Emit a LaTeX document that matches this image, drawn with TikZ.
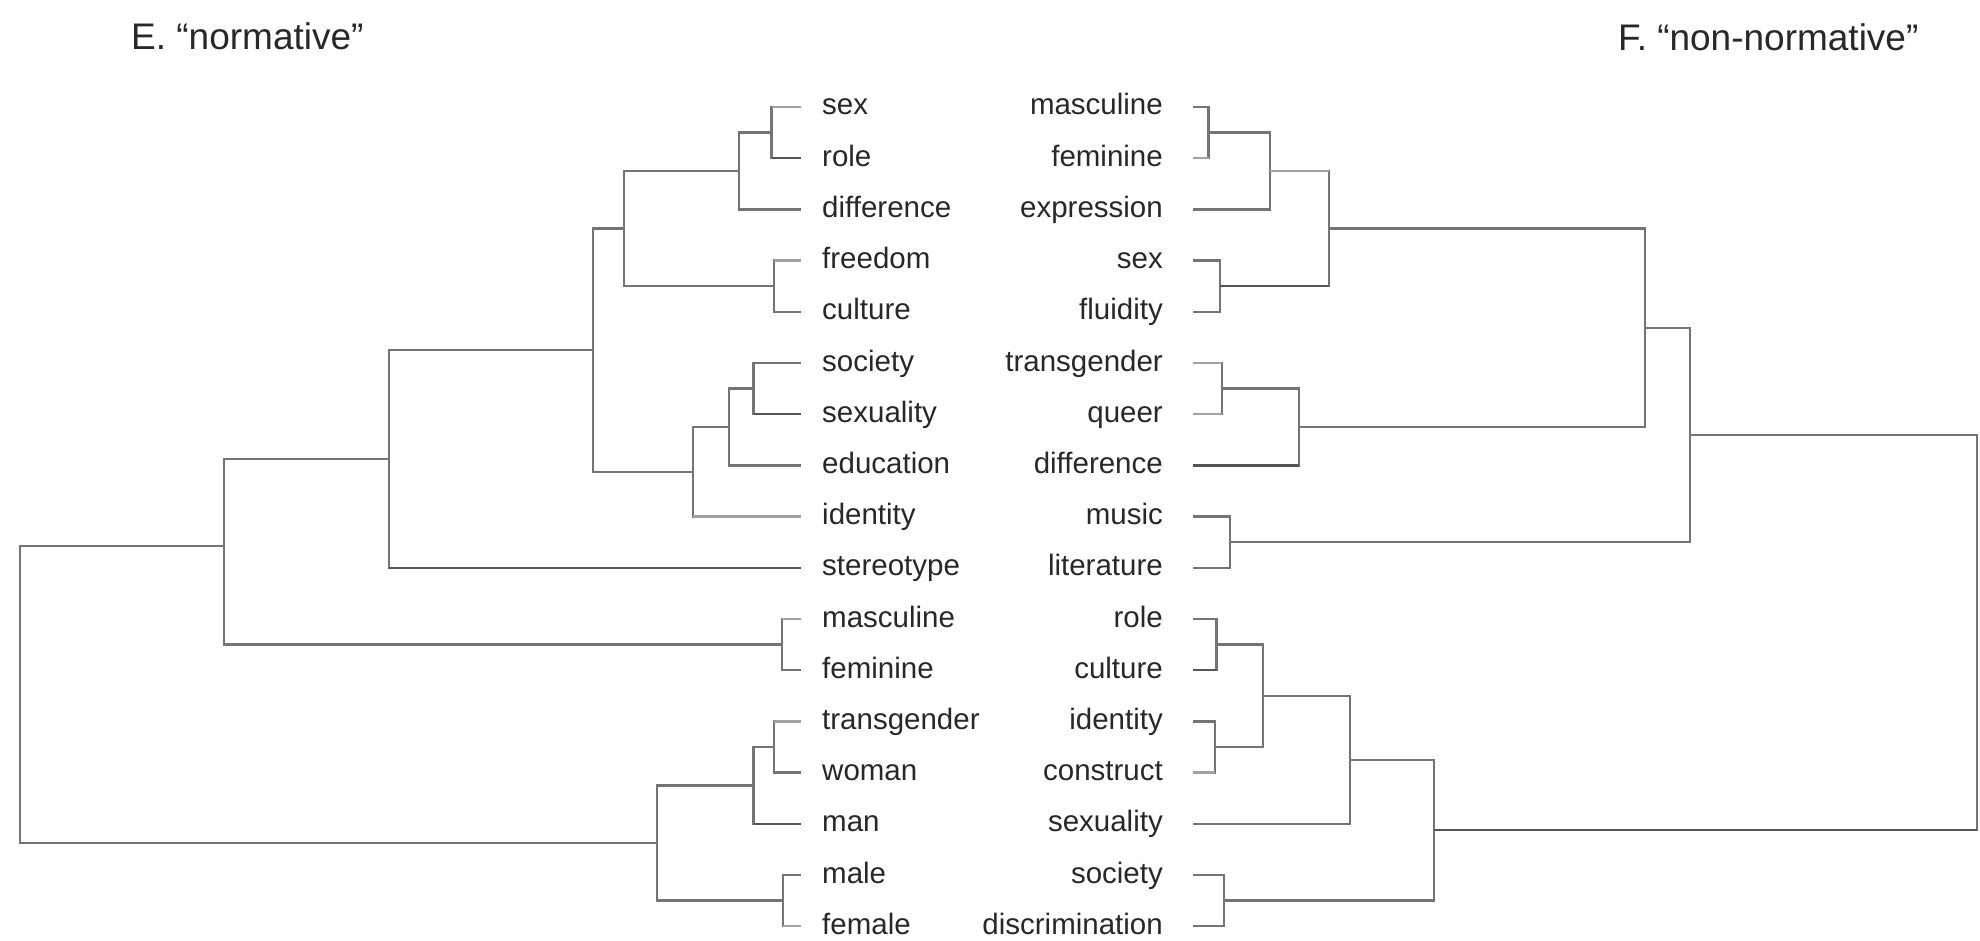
\documentclass[tikz,border=0pt]{standalone}
\usepackage{fontspec}
\setmainfont{Liberation Sans}
\definecolor{txt}{HTML}{282828}
\definecolor{ln}{HTML}{757575}
\definecolor{lnl}{HTML}{A2A2A2}
\definecolor{lnd}{HTML}{555555}
\begin{document}
\begin{tikzpicture}[x=1pt,y=-1pt,
  lbl/.style={anchor=west,inner sep=0pt,text=txt,font=\fontsize{29.5}{34}\selectfont,text height=22pt,text depth=6pt},
  rbl/.style={anchor=east,inner sep=0pt,text=txt,font=\fontsize{29.5}{34}\selectfont,text height=22pt,text depth=6pt},
  ttl/.style={anchor=base west,inner sep=0pt,text=txt,font=\fontsize{37}{41}\selectfont},
  br/.style={draw=ln,line width=2.4pt},
  brl/.style={draw=lnl,line width=2.4pt},
  brd/.style={draw=lnd,line width=2.4pt}]
\useasboundingbox (0,0) rectangle (1980,941);
\fill[white] (0,0) rectangle (1980,941);
% titles
\node[ttl] (tE) at (131,50) {E. “normative”};
\node[ttl] (tF) at (1618,51) {F. “non-normative”};
% left labels
\foreach \i/\t in {0/sex,1/role,2/difference,3/freedom,4/culture,5/society,6/sexuality,7/education,8/identity,9/stereotype,10/masculine,11/feminine,12/transgender,13/woman,14/man,15/male,16/female}
  \node[lbl] (L\i) at (822,{107+51.2*\i}) {\t};
% right labels
\foreach \i/\t in {0/masculine,1/feminine,2/expression,3/sex,4/fluidity,5/transgender,6/queer,7/difference,8/music,9/literature,10/role,11/culture,12/identity,13/construct,14/sexuality,15/society,16/discrimination}
  \node[rbl] (R\i) at (1163,{107+51.2*\i}) {\t};
% leaf ends
\foreach \i in {0,...,16}{
  \coordinate (l\i) at ([xshift=-21pt]L\i.west);
  \coordinate (r\i) at ([xshift=30pt]R\i.east);
}
% left joins
\coordinate (a1) at (771.6,132.6);
\coordinate (a2) at (739,171);
\coordinate (a3) at (774,286.2);
\coordinate (a4) at (624,228.6);
\coordinate (a5) at (753.5,388.6);
\coordinate (a6) at (728.7,427);
\coordinate (a7) at (693,471.8);
\coordinate (a8) at (593,350.2);
\coordinate (a9) at (389,459);
\coordinate (a10) at (782,644.6);
\coordinate (a11) at (224,546);
\coordinate (a12) at (774,747);
\coordinate (a13) at (753.5,785.4);
\coordinate (a14) at (783,900.6);
\coordinate (a15) at (657,843);
\coordinate (a16) at (20,694.5);
\draw[br] (l0) -| (a1) |- (l1);
\draw[br] (a1) -| (a2) |- (l2);
\draw[br] (l3) -| (a3) |- (l4);
\draw[br] (a2) -| (a4) |- (a3);
\draw[br] (l5) -| (a5) |- (l6);
\draw[br] (a5) -| (a6) |- (l7);
\draw[br] (a6) -| (a7) |- (l8);
\draw[br] (a4) -| (a8) |- (a7);
\draw[br] (a8) -| (a9) |- (l9);
\draw[br] (l10) -| (a10) |- (l11);
\draw[br] (a9) -| (a11) |- (a10);
\draw[br] (l12) -| (a12) |- (l13);
\draw[br] (a12) -| (a13) |- (l14);
\draw[br] (l15) -| (a14) |- (l16);
\draw[br] (a13) -| (a15) |- (a14);
\draw[br] (a11) -| (a16) |- (a15);
% left shade variations
\draw[brl] (l0) -- (l0 -| a1);
\draw[brl] (l3) -- (l3 -| a3);
\draw[brl] (l8) -- (l8 -| a7);
\draw[brl] (l10) -- (l10 -| a10);
\draw[brl] (l12) -- (l12 -| a12);
\draw[brl] (l16) -- (l16 -| a14);
\draw[brd] (l1) -- (l1 -| a1);
\draw[brd] (l6) -- (l6 -| a5);
\draw[brd] (l9) -- (l9 -| a9);
\draw[brd] (l14) -- (l14 -| a13);
% right joins
\coordinate (b1) at (1208.5,132.6);
\coordinate (b2) at (1270,171);
\coordinate (b3) at (1220,286.2);
\coordinate (b4) at (1329,228.6);
\coordinate (b5) at (1222,388.6);
\coordinate (b6) at (1299,427);
\coordinate (b7) at (1645,327.8);
\coordinate (b8) at (1230,542.2);
\coordinate (b9) at (1690,435);
\coordinate (b10) at (1216.5,644.6);
\coordinate (b11) at (1215,747);
\coordinate (b12) at (1263,695.8);
\coordinate (b13) at (1350,759.8);
\coordinate (b14) at (1224,900.6);
\coordinate (b15) at (1433.7,830.2);
\coordinate (b16) at (1977,632.6);
\draw[br] (r0) -| (b1) |- (r1);
\draw[br] (b1) -| (b2) |- (r2);
\draw[br] (r3) -| (b3) |- (r4);
\draw[br] (b2) -| (b4) |- (b3);
\draw[br] (r5) -| (b5) |- (r6);
\draw[br] (b5) -| (b6) |- (r7);
\draw[br] (b4) -| (b7) |- (b6);
\draw[br] (r8) -| (b8) |- (r9);
\draw[br] (b7) -| (b9) |- (b8);
\draw[br] (r10) -| (b10) |- (r11);
\draw[br] (r12) -| (b11) |- (r13);
\draw[br] (b10) -| (b12) |- (b11);
\draw[br] (b12) -| (b13) |- (r14);
\draw[br] (r15) -| (b14) |- (r16);
\draw[br] (b13) -| (b15) |- (b14);
\draw[br] (b9) -| (b16) |- (b15);
% right shade variations
\draw[brl] (r1) -- (r1 -| b1);
\draw[brl] (r5) -- (r5 -| b5);
\draw[brl] (r6) -- (r6 -| b5);
\draw[brl] (r13) -- (r13 -| b11);
\draw[brl] (b2) -- (b2 -| b4);
\draw[brd] (b3) -- (b3 -| b4);
\draw[brd] (r7) -- (r7 -| b6);
\draw[brd] (r11) -- (r11 -| b10);
\draw[brd] (b15) -- (b15 -| b16);
\end{tikzpicture}
\end{document}
